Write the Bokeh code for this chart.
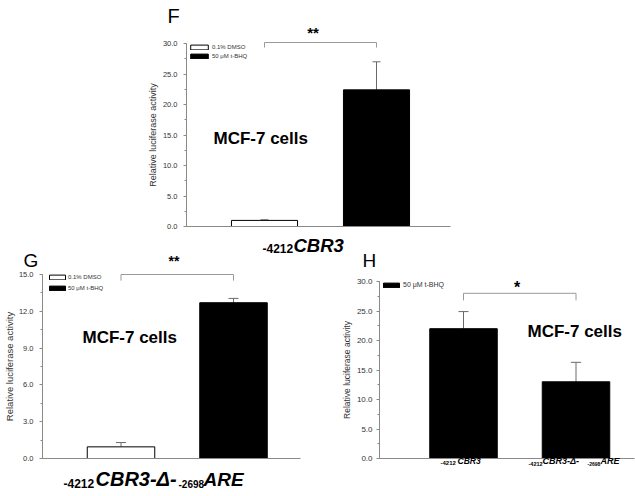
from bokeh.plotting import figure
from bokeh.models import (ColumnDataSource, Whisker, TeeHead, Label, Range1d,
                          SingleIntervalTicker, FixedTicker, PrintfTickFormatter)
from bokeh.layouts import row, column
from bokeh.embed import file_html
from bokeh.resources import INLINE

FONT = "Liberation Sans"
AXIS = "#8a8a8a"
TXT = "#333333"
ERR = "#6a6a6a"
BRK = "#9a9a9a"

# ---------------- data ----------------
treatments = ["0.1% DMSO", "50 \u03bcM t-BHQ"]
bar_colors = ["white", "black"]
f_means = [1.0, 22.4]
f_errors = [0.1, 4.6]
f_axis_max = 30
g_means = [0.95, 12.7]
g_errors = [0.35, 0.35]
g_axis_max = 15
h_constructs = ["-4212CBR3", "-4212CBR3-\u0394--2698ARE"]
h_means = [22.0, 13.0]
h_errors = [2.9, 3.3]
h_axis_max = 30
cell_line = "MCF-7 cells"
y_title = "Relative luciferase activity"
f_sig = "**"
g_sig = "**"
h_sig = "*"


class Geo:
    """Canvas geometry: origin/size in page px, px per unit, px of bar 1 centre and of y = 0."""

    def __init__(self, ox, oy, w, h, kx, cx, ky, zy):
        self.ox, self.oy, self.w, self.h = ox, oy, w, h
        self.kx, self.cx, self.ky, self.zy = kx, cx, ky, zy

    def X(self, px):
        return 1 + (px - self.cx) / self.kx

    def Y(self, py):
        return (self.zy - py) / self.ky


def base_fig(g, axis_left, axis_right, y_max, interval, tick_size, tick_standoff,
             ylab_size, ylab_standoff):
    p = figure(width=g.w, height=g.h,
               x_range=Range1d(g.X(g.ox), g.X(g.ox + g.w)),
               y_range=Range1d(g.Y(g.oy + g.h), g.Y(g.oy)),
               output_backend="svg", toolbar_location=None, title=None,
               min_border_left=0, min_border_right=0, min_border_top=0, min_border_bottom=0)
    p.outline_line_color = None
    p.grid.visible = False
    p.background_fill_color = "white"
    p.border_fill_color = "white"
    xa = p.xaxis[0]
    xa.fixed_location = 0
    xa.bounds = (g.X(axis_left), g.X(axis_right))
    xa.ticker = FixedTicker(ticks=[])
    xa.major_label_text_font_size = "0px"
    xa.axis_line_color = AXIS
    xa.major_tick_line_color = None
    xa.minor_tick_line_color = None
    ya = p.yaxis[0]
    ya.fixed_location = g.X(axis_left)
    ya.bounds = (0, y_max)
    ya.ticker = SingleIntervalTicker(interval=interval, num_minor_ticks=2)
    ya.formatter = PrintfTickFormatter(format="%.1f")
    ya.axis_line_color = AXIS
    ya.major_tick_line_color = AXIS
    ya.minor_tick_line_color = AXIS
    ya.major_tick_in = 0
    ya.major_tick_out = 3
    ya.minor_tick_in = 0
    ya.minor_tick_out = 2
    ya.major_label_text_font = FONT
    ya.major_label_text_font_size = f"{tick_size}px"
    ya.major_label_text_color = TXT
    ya.major_label_standoff = tick_standoff
    ya.axis_label = y_title
    ya.axis_label_text_font = FONT
    ya.axis_label_text_font_size = f"{ylab_size}px"
    ya.axis_label_text_font_style = "normal"
    ya.axis_label_text_color = TXT
    ya.axis_label_standoff = ylab_standoff
    return p


def add_bars(p, means, errors, colors, labels, bar_w, head, legend_field=True):
    xs = list(range(1, len(means) + 1))
    src = ColumnDataSource(dict(x=xs, top=means,
                                upper=[m + e for m, e in zip(means, errors)],
                                fill=colors, label=labels))
    if legend_field:
        p.vbar(x="x", top="top", bottom=0, width=bar_w, fill_color="fill", line_color="black",
               line_width=1, source=src, legend_field="label")
    else:
        p.vbar(x="x", top="top", bottom=0, width=bar_w, fill_color="fill", line_color="black",
               line_width=1, source=src, legend_label=labels[0])
    w = Whisker(base="x", lower="top", upper="upper", source=src, line_color=ERR, line_width=1,
                upper_head=TeeHead(size=head, line_color=ERR, line_width=1), lower_head=None)
    p.add_layout(w)
    return xs


def style_legend(p, loc, gw, gh, lh, spacing, standoff, size):
    lg = p.legend[0]
    lg.location = loc
    lg.border_line_color = None
    lg.background_fill_alpha = 0
    lg.padding = 0
    lg.margin = 0
    lg.spacing = spacing
    lg.label_height = lh
    lg.glyph_height = gh
    lg.glyph_width = gw
    lg.label_standoff = standoff
    lg.label_text_font = FONT
    lg.label_text_font_size = f"{size}px"
    lg.label_text_color = TXT


def txt(p, g, px, py, text, size, style="normal", align="left"):
    # py is the wanted baseline in page px; small correction for the text box placement
    dy = 3 + 0.17 * size
    p.add_layout(Label(x=g.X(px), y=g.Y(py - dy), text=text, text_font=FONT,
                       text_font_size=f"{size}px", text_font_style=style, text_align=align,
                       text_baseline="alphabetic", text_color="black"))


def bracket(p, xs, top, foot):
    p.line(x=[xs[0], xs[0], xs[1], xs[1]], y=[foot, top, top, foot], line_color=BRK, line_width=1)


# ---------------- panel F (top canvas, also carries the G / H panel letters) ----------------
gF = Geo(0, 0, 635, 270, 112.0, 264, 6.1, 226)
pF = base_fig(gF, 186, 450, f_axis_max, 5, 7.5, 6, 9, 2)
xsF = add_bars(pF, f_means, f_errors, bar_colors, treatments, 0.59, 8)
style_legend(pF, (188, 210), 22, 6, 9, 0, 2, 6)
bracket(pF, xsF, 30.16, 29.34)
txt(pF, gF, 312.5, 38, f_sig, 15, "bold", "center")
txt(pF, gF, 167, 22, "F", 20)
txt(pF, gF, 213, 144, cell_line, 17, "bold")
txt(pF, gF, 262, 253, "-4212", 12, "bold")
txt(pF, gF, 293, 251, "CBR3", 18.5, "bold italic")
txt(pF, gF, 23, 266, "G", 19)
txt(pF, gF, 173.5, 266, g_sig, 14, "bold", "center")
txt(pF, gF, 362, 266, "H", 19)

# ---------------- panel G ----------------
gG = Geo(0, 270, 310, 226, 112.5, 120.5, 184 / 15, 458)
pG = base_fig(gG, 42, 300, g_axis_max, 3, 7.5, 6, 9.5, 1)
xsG = add_bars(pG, g_means, g_errors, bar_colors, treatments, 0.6, 10)
style_legend(pG, (47, 203), 20, 6, 10, 1, 1, 6)
bracket(pG, xsG, 15.0, 14.5)
txt(pG, gG, 82, 343, cell_line, 17, "bold")
txt(pG, gG, 63, 488, "-4212", 12, "bold")
txt(pG, gG, 95, 485, "CBR3-\u0394-", 20, "bold italic")
txt(pG, gG, 178, 488, "-2698", 10, "bold")
txt(pG, gG, 203, 485, "ARE", 19, "bold italic")

# ---------------- panel H ----------------
gH = Geo(310, 270, 325, 226, 112.5, 463, 5.9, 458)
pH = base_fig(gH, 379, 634, h_axis_max, 5, 8, 4, 8.5, 2)
xsH = add_bars(pH, h_means, h_errors, ["black", "black"], [treatments[1], treatments[1]], 0.6, 10,
               legend_field=False)
style_legend(pH, (71, 207), 20, 6, 9, 1, 2, 7)
bracket(pH, xsH, 28.0, 26.8)
txt(pH, gH, 516.5, 293, h_sig, 16, "bold", "center")
txt(pH, gH, 527, 337, cell_line, 17, "bold")
txt(pH, gH, 440, 467, "-4212", 6, "bold")
txt(pH, gH, 457, 465, "CBR3", 8.5, "bold italic")
txt(pH, gH, 528, 467, "-4212", 5.5, "bold")
txt(pH, gH, 542, 465, "CBR3-\u0394-", 9, "bold italic")
txt(pH, gH, 587, 467, "-2698", 5, "bold")
txt(pH, gH, 600, 465, "ARE", 9, "bold italic")

layout = column(pF, row(pG, pH))
open("out.html", "w").write(file_html(layout, INLINE))
